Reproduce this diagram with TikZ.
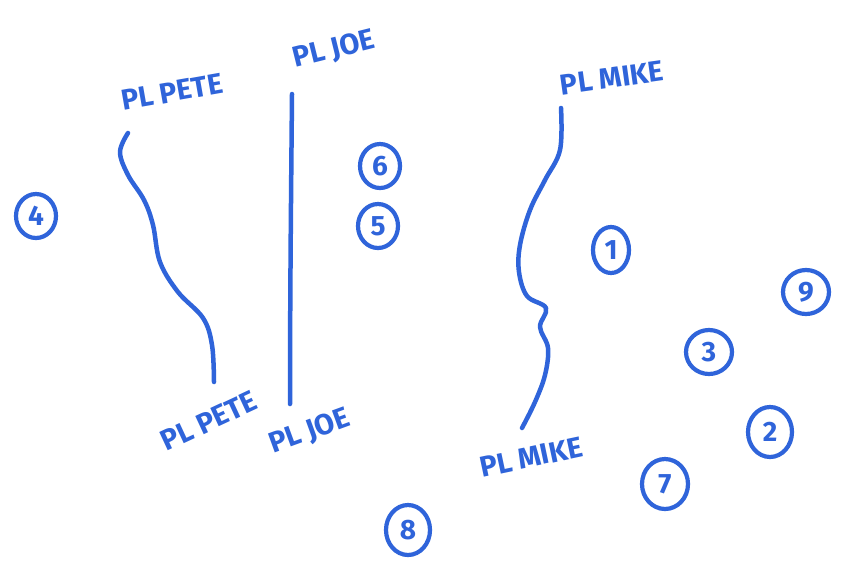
\documentclass[tikz,border=0pt]{standalone}
\usepackage{fontspec}
\setmainfont{Fira Sans}
\usetikzlibrary{shapes.geometric}
\definecolor{pen}{HTML}{2F64DA}
\tikzset{
  lbl/.style={text=pen, font=\fontsize{29}{29}\selectfont\bfseries, inner sep=0pt},
  num/.style={draw=pen, text=pen, ellipse, line width=4.2pt, inner sep=0pt,
     minimum width=40pt, minimum height=44pt, font=\fontsize{28}{28}\selectfont\bfseries},
  wire/.style={draw=pen, line width=4.5pt, line cap=round, line join=round}
}
\begin{document}
\begin{tikzpicture}[x=1pt,y=-1pt]
\useasboundingbox (0,0) rectangle (842,573);
\fill[white] (0,0) rectangle (842,573);
% labels
\node[lbl, rotate=10] (peteT) at (172,92) {PL PETE};
\node[lbl, rotate=14] (joeT) at (334,50) {PL JOE};
\node[lbl, rotate=8] (mikeT) at (612,78) {PL MIKE};
\node[lbl, rotate=25] (peteB) at (209,421) {PL PETE};
\node[lbl, rotate=20] (joeB) at (310,432) {PL JOE};
\node[lbl, rotate=12] (mikeB) at (531,457) {PL MIKE};
% line ends
\coordinate (p1) at (128,133);
\coordinate (p2) at (214,382);
\coordinate (j1) at (292,94);
\coordinate (j2) at (290,404);
\coordinate (m1) at (561,108);
\coordinate (m2) at (522,428);
% lines
\draw[wire] plot[smooth, tension=0.6] coordinates {(p1) (120,152) (128,175) (144,200) (153,225) (160,262) (178,292) (203,318) (212,345) (p2)};
\draw[wire] (j1) .. controls (291,200) and (290,300) .. (j2);
\draw[wire] plot[smooth, tension=0.6] coordinates {(m1) (560,150) (545,180) (530,210) (520,245) (519,272) (527,296) (546,308) (540,327) (548,348) (545,375) (535,402) (m2)};
% circled numbers
\node[num] (n4) at (36,216) {4};
\node[num] (n6) at (380,166) {6};
\node[num] (n5) at (378,226) {5};
\node[num, minimum width=36pt, minimum height=46pt] (n1) at (611,250) {1};
\node[num, minimum width=46pt, minimum height=44pt] (n9) at (806,292) {9};
\node[num, minimum width=46pt, minimum height=44pt] (n3) at (709,352) {3};
\node[num, minimum width=44pt, minimum height=50pt] (n2) at (770,432) {2};
\node[num, minimum width=46pt, minimum height=50pt] (n7) at (665,484) {7};
\node[num, minimum width=44pt, minimum height=50pt] (n8) at (408,530) {8};
\end{tikzpicture}
\end{document}
